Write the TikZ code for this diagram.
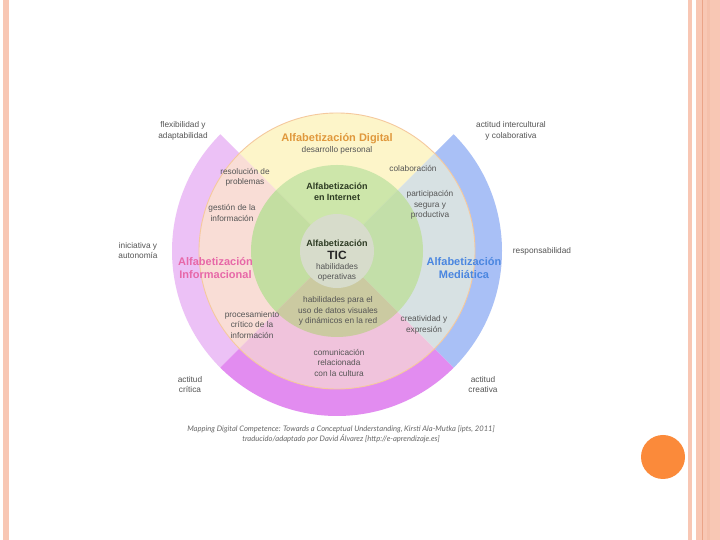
\documentclass[tikz,border=0pt]{standalone}
\usepackage{fontspec}
\setmainfont{Liberation Sans}
\newfontfamily\capfont{Lato}
\definecolor{slidebar}{HTML}{F8C7B4}
\definecolor{slideline}{HTML}{EBA488}
\definecolor{dotorange}{HTML}{FB8A3A}
\definecolor{qtop}{HTML}{FDF5C9}
\definecolor{qleft}{HTML}{F9DDD6}
\definecolor{qright}{HTML}{D7E1E3}
\definecolor{qbottom}{HTML}{F0C3DC}
\definecolor{gtop}{HTML}{CDE6AA}
\definecolor{gleft}{HTML}{C3DEA1}
\definecolor{gright}{HTML}{C3DFA9}
\definecolor{gbottom}{HTML}{CBCAA1}
\definecolor{ccore}{HTML}{D7DCCB}
\definecolor{bandleft}{HTML}{ECC1F6}
\definecolor{bandbottom}{HTML}{E28CF0}
\definecolor{bandright}{HTML}{A9C0F6}
\definecolor{rimline}{HTML}{F5C99E}
\definecolor{tdigital}{HTML}{E0983C}
\definecolor{tinfo}{HTML}{E768A8}
\definecolor{tmedia}{HTML}{4A86E0}
\definecolor{tinternet}{HTML}{2C3A22}
\definecolor{tgray}{HTML}{555555}
\definecolor{tcap}{HTML}{666666}
\tikzset{
  small/.style={font=\fontsize{8.3}{10.5}\selectfont, text=tgray, align=center, inner sep=0pt},
  title/.style={font=\fontsize{11}{13}\selectfont\bfseries, align=center, inner sep=0pt},
  midtitle/.style={font=\fontsize{9}{11}\selectfont\bfseries, align=center, inner sep=0pt, text=tinternet},
  caption/.style={font=\capfont\itshape\fontsize{7.6}{8.5}\selectfont, text=tcap, inner sep=0pt}
}
\begin{document}
\begin{tikzpicture}[x=1pt,y=1pt]
\useasboundingbox (0,0) rectangle (720,540);
\fill[white] (0,0) rectangle (720,540);
% slide decorations
\fill[slidebar] (3,0) rectangle (9,540);
\fill[slidebar] (688,0) rectangle (692,540);
\fill[slidebar] (696,0) rectangle (720,540);
\draw[slideline, line width=0.8] (702,0) -- (702,540);
\fill[slidebar!80!slideline] (707,0) rectangle (710,540);
\fill[dotorange] (663,83) circle (22);
% diagram
\begin{scope}[shift={(337,289)}]
  % outer bands
  \fill[bandleft] (135:138) arc[start angle=135,end angle=225,radius=138] -- (225:165) arc[start angle=225,end angle=135,radius=165] -- cycle;
  \fill[bandbottom] (225:138) arc[start angle=225,end angle=315,radius=138] -- (315:165) arc[start angle=315,end angle=225,radius=165] -- cycle;
  \fill[bandright] (-45:138) arc[start angle=-45,end angle=45,radius=138] -- (45:165) arc[start angle=45,end angle=-45,radius=165] -- cycle;
  % quadrants
  \fill[qtop] (0,0) -- (45:138) arc[start angle=45,end angle=135,radius=138] -- cycle;
  \fill[qleft] (0,0) -- (135:138) arc[start angle=135,end angle=225,radius=138] -- cycle;
  \fill[qbottom] (0,0) -- (225:138) arc[start angle=225,end angle=315,radius=138] -- cycle;
  \fill[qright] (0,0) -- (-45:138) arc[start angle=-45,end angle=45,radius=138] -- cycle;
  \draw[rimline, line width=0.9] (0,0) circle (138);
  % green disc
  \fill[gtop] (0,0) -- (45:86) arc[start angle=45,end angle=135,radius=86] -- cycle;
  \fill[gleft] (0,0) -- (135:86) arc[start angle=135,end angle=225,radius=86] -- cycle;
  \fill[gbottom] (0,0) -- (225:86) arc[start angle=225,end angle=315,radius=86] -- cycle;
  \fill[gright] (0,0) -- (-45:86) arc[start angle=-45,end angle=45,radius=86] -- cycle;
  % core
  \fill[ccore] (0,0) circle (37);
\end{scope}
% titles
\node[title, text=tdigital] (tdig) at (337,401) {Alfabetización Digital};
\node[small] (sdig) at (337,390) {desarrollo personal};
\node[midtitle] (tint) at (337,348.5) {Alfabetización\\en Internet};
\node[midtitle] (ttic1) at (337,297) {Alfabetización};
\node[title, text=black!85, font=\fontsize{12}{14}\selectfont\bfseries] (ttic2) at (337,285) {TIC};
\node[small] (stic) at (337,267.5) {habilidades\\operativas};
\node[title, text=tinfo] (tinf) at (215.5,271.5) {Alfabetización\\Informacional};
\node[title, text=tmedia] (tmed) at (464,271.5) {Alfabetización\\Mediática};
% inner labels
\node[small] (l1) at (245,362.5) {resolución de\\problemas};
\node[small] (l2) at (232,327) {gestión de la\\información};
\node[small] (l3) at (413,372) {colaboración};
\node[small] (l4) at (430,335) {participación\\segura y\\productiva};
\node[small] (l5) at (252,215) {procesamiento\\crítico de la\\información};
\node[small] (l6) at (338,229) {habilidades para el\\uso de datos visuales\\y dinámicos en la red};
\node[small] (l7) at (424,215) {creatividad y\\expresión};
\node[small] (l8) at (339,177.5) {comunicación\\relacionada\\con la cultura};
% outer labels
\node[small] (o1) at (183,409) {flexibilidad y\\adaptabilidad};
\node[small] (o2) at (511,409) {actitud intercultural\\y colaborativa};
\node[small] (o3) at (138,289.5) {iniciativa y\\autonomía};
\node[small] (o4) at (542,289) {responsabilidad};
\node[small] (o5) at (190,155.5) {actitud\\crítica};
\node[small] (o6) at (483,155.5) {actitud\\creativa};
% caption
\node[caption] (c1) at (341,111) {Mapping Digital Competence: Towards a Conceptual Understanding, Kirsti Ala-Mutka [ipts, 2011]};
\node[caption] (c2) at (341,101) {traducido/adaptado por David Álvarez [http://e-aprendizaje.es]};
\end{tikzpicture}
\end{document}
